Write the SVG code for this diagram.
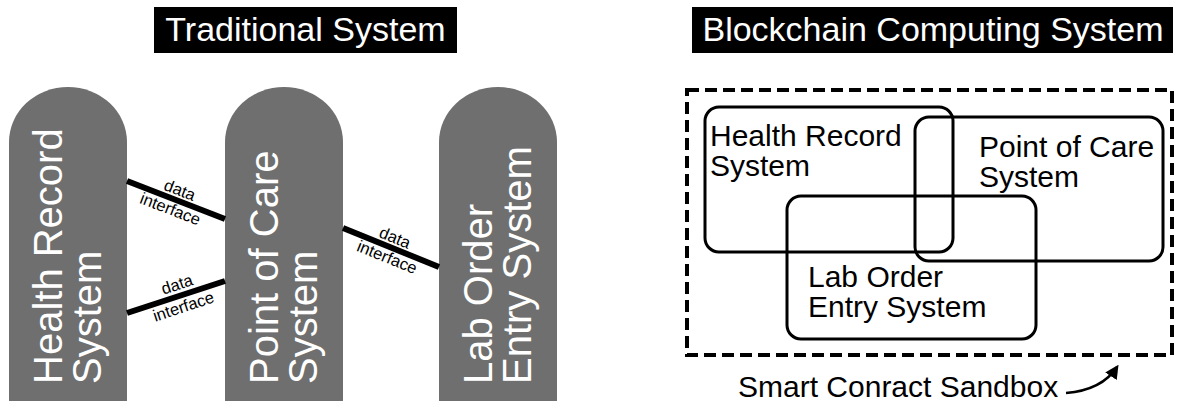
<svg xmlns="http://www.w3.org/2000/svg" width="1177" height="404" viewBox="0 0 1177 404">
<style>
.title{fill:#000}
.ttext{font-family:"Liberation Sans",Arial,sans-serif;font-size:34px;fill:#fff;text-anchor:middle}
.pillar{fill:#6f6f6f}
.ptext{font-family:"Liberation Sans",Arial,sans-serif;font-size:40px;fill:#fff}
.conn{stroke:#000;stroke-width:6;fill:none}
.lbl{font-family:"Liberation Sans",Arial,sans-serif;font-size:16.5px;fill:#000;text-anchor:middle}
.box{fill:none;stroke:#000;stroke-width:3}
.btext{font-family:"Liberation Sans",Arial,sans-serif;font-size:30px;fill:#000}
</style>
<defs>
<marker id="ah" viewBox="0 0 10 10" refX="8" refY="5" markerWidth="5.5" markerHeight="5.5" orient="auto">
<path d="M0,0 L10,5 L0,10 z" fill="#000"/>
</marker>
</defs>
<rect width="1177" height="404" fill="#fff"/>
<g id="title-traditional">
<rect class="title" x="154" y="7" width="303" height="46"/>
<text class="ttext" x="305.5" y="41">Traditional System</text>
</g>
<g id="title-blockchain">
<rect class="title" x="692" y="7" width="481" height="46"/>
<text class="ttext" x="933" y="41">Blockchain Computing System</text>
</g>
<g id="health-record">
<path class="pillar" d="M9,401 V142 A59,55 0 0 1 127,142 V401 Z"/>
<text class="ptext" transform="translate(62,384) rotate(-90)">Health Record</text>
<text class="ptext" transform="translate(101,384) rotate(-90)">System</text>
</g>
<g id="point-of-care">
<path class="pillar" d="M225,401 V142 A59,55 0 0 1 343,142 V401 Z"/>
<text class="ptext" transform="translate(278,384) rotate(-90)">Point of Care</text>
<text class="ptext" transform="translate(317,384) rotate(-90)">System</text>
</g>
<g id="lab-order">
<path class="pillar" d="M439,401 V142 A59,55 0 0 1 557,142 V401 Z"/>
<text class="ptext" transform="translate(492,384) rotate(-90)">Lab Order</text>
<text class="ptext" transform="translate(531,384) rotate(-90)">Entry System</text>
</g>
<g id="connectors">
<line class="conn" x1="127" y1="181" x2="225" y2="219"/>
<line class="conn" x1="127" y1="313" x2="225" y2="281"/>
<line class="conn" x1="343" y1="228" x2="439" y2="267"/>
<g transform="translate(176,200) rotate(21.2)">
<text class="lbl" x="0" y="-5">data</text>
<text class="lbl" x="-2" y="16">interface</text>
</g>
<g transform="translate(176,297) rotate(-18.4)">
<text class="lbl" x="5" y="-6">data</text>
<text class="lbl" x="4" y="17">interface</text>
</g>
<g transform="translate(391,247.5) rotate(22.1)">
<text class="lbl" x="0" y="-5">data</text>
<text class="lbl" x="0" y="16">interface</text>
</g>
</g>
<g id="sandbox">
<rect x="687" y="90" width="485" height="265" fill="none" stroke="#000" stroke-width="4" stroke-dasharray="12,6"/>
<text class="btext" x="738" y="397">Smart Conract Sandbox</text>
<path d="M1066,393 Q1102,390 1117,367" fill="none" stroke="#000" stroke-width="2.5" marker-end="url(#ah)"/>
</g>
<g id="bc-health-record">
<rect class="box" x="705" y="107" width="248" height="145" rx="14"/>
<text class="btext" x="710" y="146">Health Record</text>
<text class="btext" x="710" y="176">System</text>
</g>
<g id="bc-point-of-care">
<rect class="box" x="915" y="117" width="248" height="144" rx="14"/>
<text class="btext" x="979" y="157">Point of Care</text>
<text class="btext" x="979" y="187">System</text>
</g>
<g id="bc-lab-order">
<rect class="box" x="787" y="196" width="249" height="143" rx="14"/>
<text class="btext" x="808" y="287">Lab Order</text>
<text class="btext" x="808" y="317">Entry System</text>
</g>
</svg>
